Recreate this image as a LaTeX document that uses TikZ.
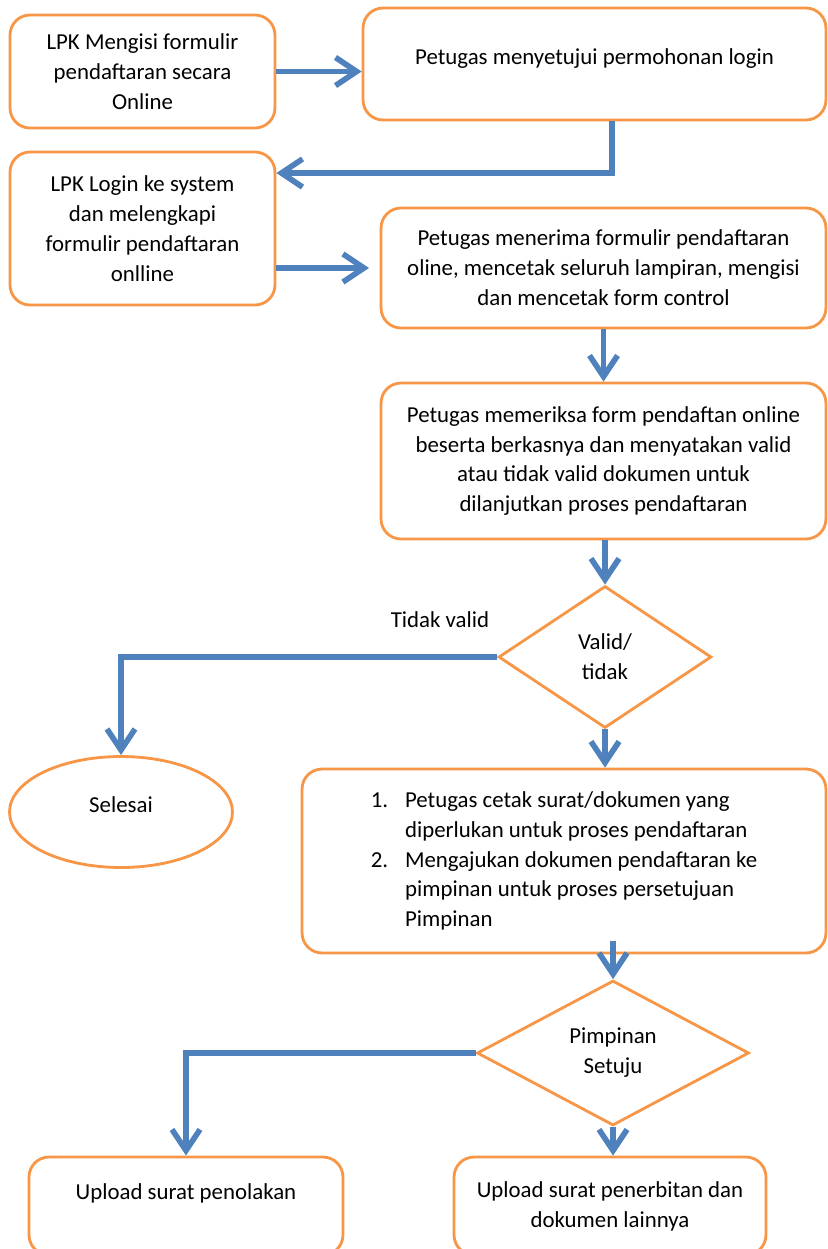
\documentclass[tikz,border=0pt]{standalone}
\usepackage{fontspec}
\setmainfont{Carlito}
\usetikzlibrary{arrows.meta}
\usetikzlibrary{shapes.geometric}
\definecolor{boxOrange}{RGB}{247,150,70}
\definecolor{arrowBlue}{RGB}{79,129,189}
\tikzset{flowText/.style={font=\fontsize{13pt}{17pt}\selectfont,align=center,inner sep=2pt}}
\tikzset{processBox/.style={flowText,draw=boxOrange,line width=1.6pt,rounded corners=0.4cm,fill=white}}
\tikzset{decisionShape/.style={flowText,diamond,draw=boxOrange,line width=1.6pt,fill=white,inner sep=0pt}}
\tikzset{endShape/.style={flowText,ellipse,draw=boxOrange,line width=1.6pt,fill=white}}
\tikzset{flowArrow/.style={draw=arrowBlue,line width=3.2pt,->}}

\begin{document}
\begin{tikzpicture}[x=0.02cm,y=-0.02cm,>={Straight Barb[length=12pt,width=16pt]}]
\useasboundingbox (0,0) rectangle (828,1249);
\clip (0,0) rectangle (828,1249);

% registration
\node[processBox,minimum width=5.3cm,minimum height=2.26cm] (mengisi) at (142.5,71.5) {LPK Mengisi formulir\\pendaftaran secara\\Online};
\node[processBox,minimum width=9.26cm,minimum height=2.24cm] (menyetujui) at (594.5,64) {Petugas menyetujui permohonan login\\[-8pt]\mbox{}};
\node[processBox,minimum width=5.3cm,minimum height=3.06cm] (login) at (142.5,228.5) {LPK Login ke system\\dan melengkapi\\formulir pendaftaran\\onlline};
\node[processBox,minimum width=8.9cm,minimum height=2.4cm] (menerima) at (603.5,268) {Petugas menerima formulir pendaftaran\\oline, mencetak seluruh lampiran, mengisi\\dan mencetak form control};
\node[processBox,minimum width=8.9cm,minimum height=3.12cm] (memeriksa) at (603.5,461) {Petugas memeriksa form pendaftan online\\beserta berkasnya dan menyatakan valid\\atau tidak valid dokumen untuk\\dilanjutkan proses pendaftaran};

% validation
\node[decisionShape,minimum width=4.26cm,minimum height=2.84cm] (valid) at (605,657) {Valid/\\tidak};
\node[flowText] (tidakValid) at (440,620) {Tidak valid};
\node[endShape,minimum width=4.46cm,minimum height=2.22cm] (selesai) at (121,812) {Selesai\\[-8pt]\mbox{}};
\node[processBox,align=left,minimum width=10.48cm,minimum height=3.68cm] (cetak) at (564,861) {%
  \makebox[1.5em][l]{1.}Petugas cetak surat/dokumen yang\\
  \hspace*{1.5em}diperlukan untuk proses pendaftaran\\
  \makebox[1.5em][l]{2.}Mengajukan dokumen pendaftaran ke\\
  \hspace*{1.5em}pimpinan untuk proses persetujuan\\
  \hspace*{1.5em}Pimpinan};

% approval
\node[decisionShape,minimum width=5.44cm,minimum height=2.9cm] (setuju) at (613,1053) {Pimpinan\\Setuju};
\node[processBox,minimum width=6.28cm,minimum height=1.96cm] (penolakan) at (186,1206) {Upload surat penolakan\\\mbox{}};
\node[processBox,minimum width=6.24cm,minimum height=1.96cm] (penerbitan) at (610,1206) {Upload surat penerbitan dan\\dokumen lainnya};

\coordinate (turnLogin) at (612,173);
\draw[flowArrow] (mengisi.east) -- (mengisi.east -| menyetujui.west);
\draw[flowArrow] (menyetujui.south -| turnLogin) -- (turnLogin) -- (turnLogin -| login.east);
\draw[flowArrow,shorten >=6pt] (login.east |- menerima.west) -- (menerima.west);
\draw[flowArrow] (menerima.south) -- (memeriksa.north);
\draw[flowArrow] (memeriksa.south -| valid.north) -- (valid.north);
\draw[flowArrow] (valid.west) -| (selesai.north);
\draw[flowArrow] (valid.south) -- (valid.south |- cetak.north);
\draw[flowArrow] ([yshift=0.26cm]cetak.south -| setuju.north) -- (setuju.north);
\draw[flowArrow] (setuju.west) -| (penolakan.north);
\draw[flowArrow] (setuju.south) -- (setuju.south |- penerbitan.north);
\end{tikzpicture}
\end{document}
